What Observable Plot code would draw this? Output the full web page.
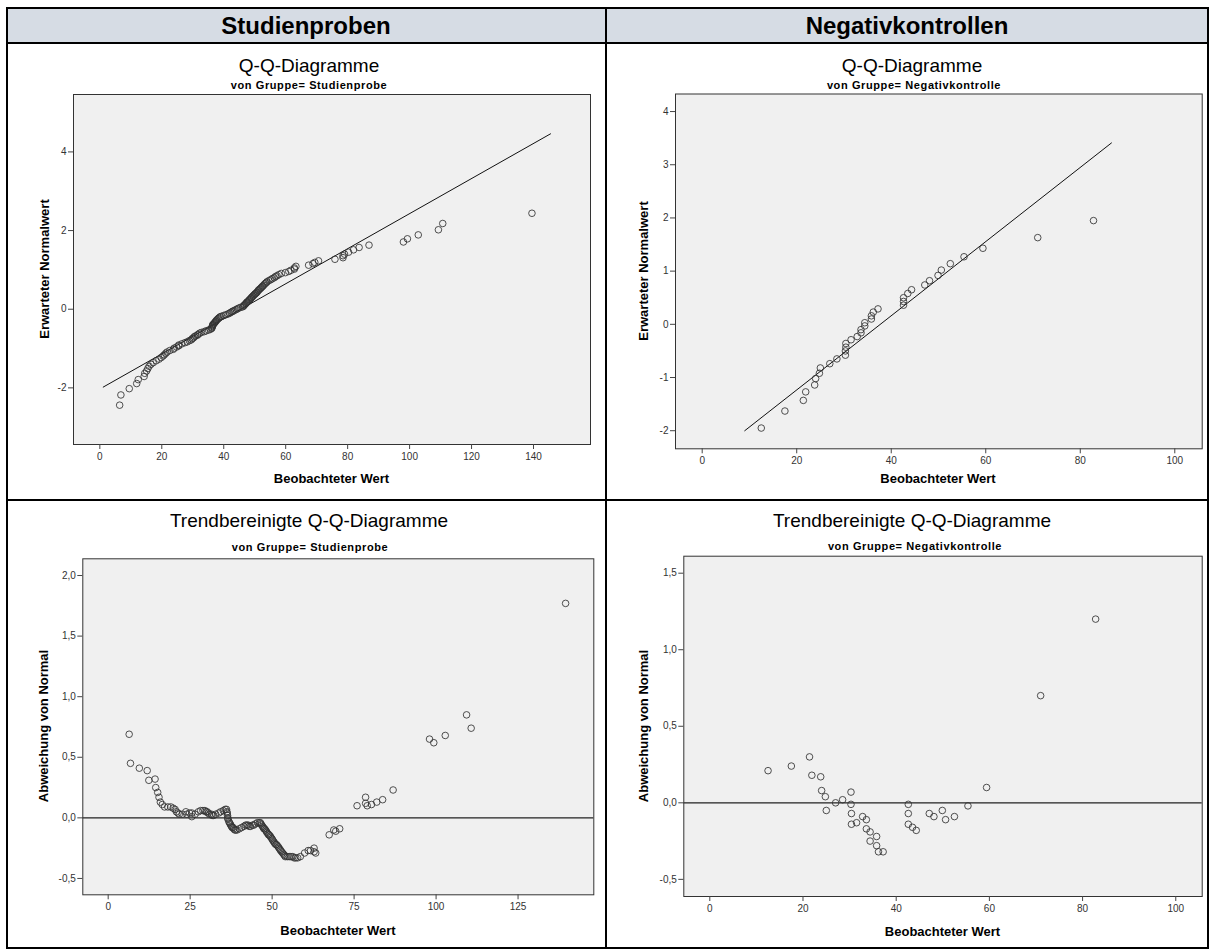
<!DOCTYPE html>
<html><head><meta charset="utf-8">
<script src="https://cdn.jsdelivr.net/npm/d3@7"></script>
<script src="https://cdn.jsdelivr.net/npm/@observablehq/plot@0.6"></script>
<style>
body{margin:0;background:#fff;font-family:"Liberation Sans",Arial,sans-serif;}
#root{position:relative;width:1212px;height:951px;overflow:hidden;background:#fff;}
.ln{position:absolute;background:#000;}
.t{position:absolute;white-space:nowrap;transform:translate(-50%,-50%);line-height:1;color:#000;}
.rot{transform:translate(-50%,-50%) rotate(-90deg);}
.hdr{font-size:24px;font-weight:bold;}
.ttl{font-size:19px;}
.sub{font-size:11px;font-weight:bold;letter-spacing:0.6px;}
.ax{font-size:13px;font-weight:bold;}
</style></head>
<body><div id="root"></div>
<script>
// ---------- data ----------
const groups = ["Studienproben", "Negativkontrollen"];
const subtitles = ["von Gruppe= Studienprobe", "von Gruppe= Negativkontrolle"];

// Studienprobe: observed value, expected normal value, deviation from normal
const studyObs = [6.4, 6.8, 9.5, 11.9, 12.4, 14.3, 14.5, 15.1, 15.5, 15.9, 16.5, 17.2, 18.2, 19.1, 19.8, 20.4, 20.8, 21.3, 21.7, 22.6, 23.7, 24.0, 24.8, 25.5, 25.5, 26.5, 27.5, 28.2, 28.9, 29.5, 29.8, 30.2, 30.5, 30.9, 31.5, 31.7, 32.2, 32.8, 33.7, 34.3, 35.1, 35.7, 36.1, 36.2, 36.3, 36.4, 36.5, 36.5, 36.8, 37.0, 37.2, 37.4, 37.6, 37.8, 38.1, 38.3, 38.6, 38.9, 39.3, 40.0, 40.7, 41.4, 41.9, 42.3, 42.7, 43.0, 43.4, 44.0, 44.4, 44.9, 45.5, 46.1, 46.4, 46.6, 46.8, 47.1, 47.3, 47.5, 47.7, 48.0, 48.2, 48.4, 48.7, 48.9, 49.1, 49.4, 49.6, 49.9, 50.1, 50.3, 50.6, 50.8, 51.1, 51.3, 51.6, 51.9, 52.1, 52.4, 52.6, 52.9, 53.2, 53.5, 53.8, 54.0, 54.6, 55.2, 55.7, 56.3, 56.7, 57.2, 57.8, 58.6, 59.9, 61.0, 61.7, 62.8, 62.8, 63.3, 67.4, 68.8, 69.4, 70.6, 75.9, 78.5, 78.5, 79.0, 80.3, 81.9, 83.7, 86.9, 98.0, 99.3, 102.8, 109.3, 110.7, 139.5];
const studyExp = [-2.44, -2.18, -2.02, -1.89, -1.79, -1.71, -1.63, -1.57, -1.51, -1.45, -1.40, -1.36, -1.31, -1.27, -1.23, -1.19, -1.16, -1.12, -1.09, -1.05, -1.02, -0.99, -0.96, -0.93, -0.91, -0.88, -0.85, -0.83, -0.80, -0.78, -0.75, -0.73, -0.70, -0.68, -0.66, -0.64, -0.61, -0.59, -0.57, -0.55, -0.53, -0.51, -0.49, -0.47, -0.44, -0.42, -0.40, -0.39, -0.37, -0.35, -0.33, -0.31, -0.29, -0.27, -0.25, -0.23, -0.21, -0.19, -0.18, -0.16, -0.14, -0.12, -0.10, -0.08, -0.06, -0.05, -0.03, -0.01, 0.01, 0.03, 0.05, 0.06, 0.08, 0.10, 0.12, 0.14, 0.16, 0.18, 0.19, 0.21, 0.23, 0.25, 0.27, 0.29, 0.31, 0.33, 0.35, 0.37, 0.39, 0.40, 0.42, 0.44, 0.47, 0.49, 0.51, 0.53, 0.55, 0.57, 0.59, 0.61, 0.64, 0.66, 0.68, 0.70, 0.73, 0.75, 0.78, 0.80, 0.83, 0.85, 0.88, 0.91, 0.93, 0.96, 0.99, 1.02, 1.05, 1.09, 1.12, 1.16, 1.19, 1.23, 1.27, 1.31, 1.36, 1.40, 1.45, 1.51, 1.57, 1.63, 1.71, 1.79, 1.89, 2.02, 2.18, 2.44];
const studyDev = [0.69, 0.45, 0.41, 0.39, 0.31, 0.32, 0.25, 0.21, 0.17, 0.13, 0.11, 0.09, 0.09, 0.09, 0.08, 0.07, 0.05, 0.04, 0.03, 0.03, 0.05, 0.03, 0.04, 0.04, 0.01, 0.03, 0.05, 0.06, 0.06, 0.06, 0.05, 0.05, 0.04, 0.03, 0.03, 0.02, 0.02, 0.03, 0.04, 0.05, 0.06, 0.07, 0.07, 0.05, 0.04, 0.02, 0.00, -0.01, -0.03, -0.04, -0.05, -0.06, -0.07, -0.08, -0.08, -0.09, -0.10, -0.10, -0.10, -0.09, -0.08, -0.07, -0.06, -0.06, -0.06, -0.07, -0.07, -0.06, -0.06, -0.05, -0.04, -0.04, -0.04, -0.05, -0.06, -0.07, -0.08, -0.09, -0.09, -0.10, -0.11, -0.12, -0.13, -0.14, -0.14, -0.15, -0.16, -0.17, -0.18, -0.19, -0.20, -0.21, -0.22, -0.22, -0.23, -0.24, -0.25, -0.26, -0.27, -0.28, -0.29, -0.30, -0.31, -0.32, -0.32, -0.32, -0.32, -0.32, -0.33, -0.33, -0.33, -0.32, -0.29, -0.27, -0.27, -0.25, -0.28, -0.29, -0.14, -0.10, -0.11, -0.09, 0.10, 0.17, 0.12, 0.10, 0.11, 0.13, 0.15, 0.23, 0.65, 0.62, 0.68, 0.85, 0.74, 1.77];

// Negativkontrolle
const ncObs = [12.5, 17.5, 21.4, 21.9, 23.8, 24.0, 24.8, 25.0, 27.0, 28.5, 30.3, 30.3, 30.4, 30.4, 31.5, 32.8, 33.6, 33.6, 34.4, 34.4, 35.8, 35.8, 36.2, 37.2, 42.6, 42.6, 42.6, 43.5, 44.3, 47.1, 48.1, 49.9, 50.6, 52.5, 55.4, 59.4, 71.0, 82.8];
const ncExp = [-1.95, -1.63, -1.43, -1.27, -1.14, -1.02, -0.92, -0.82, -0.74, -0.65, -0.58, -0.50, -0.43, -0.36, -0.29, -0.23, -0.16, -0.10, -0.03, 0.03, 0.10, 0.16, 0.23, 0.29, 0.36, 0.43, 0.50, 0.58, 0.65, 0.74, 0.82, 0.92, 1.02, 1.14, 1.27, 1.43, 1.63, 1.95];
const ncDev = [0.21, 0.24, 0.30, 0.18, 0.17, 0.08, 0.04, -0.05, 0.00, 0.02, 0.07, -0.01, -0.07, -0.14, -0.13, -0.09, -0.11, -0.17, -0.19, -0.25, -0.22, -0.28, -0.32, -0.32, -0.01, -0.07, -0.14, -0.16, -0.18, -0.07, -0.09, -0.05, -0.11, -0.09, -0.02, 0.10, 0.70, 1.20];

// reference lines of the Q-Q plots (end points)
const studyLineX = [1.1, 145.5], studyLineY = [-1.98, 4.46];
const ncLineX = [9.0, 86.6], ncLineY = [-2.0, 3.41];

// tick values
const studyQQxTicks = [0, 20, 40, 60, 80, 100, 120, 140];
const studyQQyTicks = [-2, 0, 2, 4];
const ncQQxTicks = [0, 20, 40, 60, 80, 100];
const ncQQyTicks = [-2, -1, 0, 1, 2, 3, 4];
const studyDTxTicks = [0, 25, 50, 75, 100, 125];
const studyDTyTicks = [-0.5, 0, 0.5, 1.0, 1.5, 2.0];
const ncDTxTicks = [0, 20, 40, 60, 80, 100];
const ncDTyTicks = [-0.5, 0, 0.5, 1.0, 1.5];

// ---------- layout ----------
const root = document.getElementById("root");
function line(x, y, w, h, color) {
  const d = document.createElement("div");
  d.className = "ln";
  Object.assign(d.style, {left: x + "px", top: y + "px", width: w + "px", height: h + "px"});
  if (color) d.style.background = color;
  root.appendChild(d);
}
function text(str, cls, cx, cy) {
  const d = document.createElement("div");
  d.className = "t " + cls;
  d.textContent = str;
  d.style.left = cx + "px";
  d.style.top = cy + "px";
  root.appendChild(d);
}
// header background
line(8, 9, 1199, 33, "#d6dce4");
// table borders
line(6, 7, 1203, 2);
line(6, 7, 2, 942);
line(1207, 7, 2, 942);
line(6, 947, 1203, 2);
line(6, 42, 1203, 2);
line(605, 7, 2, 942);
line(6, 499, 1203, 2);

text(groups[0], "hdr", 306, 26);
text(groups[1], "hdr", 907, 26);
text("Q-Q-Diagramme", "ttl", 309, 65);
text("Q-Q-Diagramme", "ttl", 912, 65);
text(subtitles[0], "sub", 309, 85);
text(subtitles[1], "sub", 914, 85);
text("Trendbereinigte Q-Q-Diagramme", "ttl", 309, 520);
text("Trendbereinigte Q-Q-Diagramme", "ttl", 912, 520);
text(subtitles[0], "sub", 310, 547);
text(subtitles[1], "sub", 915, 546);
text("Erwarteter Normalwert", "ax rot", 44, 269);
text("Erwarteter Normalwert", "ax rot", 643, 271);
text("Abweichung von Normal", "ax rot", 43, 726);
text("Abweichung von Normal", "ax rot", 643, 726);
text("Beobachteter Wert", "ax", 331.5, 478);
text("Beobachteter Wert", "ax", 938, 478);
text("Beobachteter Wert", "ax", 338, 930);
text("Beobachteter Wert", "ax", 942.5, 931);

const study = studyObs.map((x, i) => ({x, exp: studyExp[i], dev: studyDev[i]}));
const nc = ncObs.map((x, i) => ({x, exp: ncExp[i], dev: ncDev[i]}));

const fmtInt = d => String(d);
const fmtDec = d => d.toFixed(1).replace(".", ",");

function panel(o) {
  const refMark = o.line
    ? Plot.line(o.line[0].map((x, i) => [x, o.line[1][i]]), {stroke: "#111", strokeWidth: 1})
    : Plot.ruleY([0], {stroke: "#222", strokeWidth: 1.2});
  const svg = Plot.plot({
    width: o.W, height: o.H,
    marginLeft: o.fL - o.L, marginTop: o.fT - o.T,
    marginRight: o.L + o.W - o.fR, marginBottom: o.T + o.H - o.fB,
    x: {domain: o.xDomain},
    y: {domain: o.yDomain},
    style: {background: "transparent", fontFamily: '"Liberation Sans", Arial, sans-serif', fontSize: "10px", color: "#333", overflow: "visible"},
    marks: [
      Plot.frame({fill: "#f0f0f0", stroke: null}),
      refMark,
      Plot.dot(o.data, {x: "x", y: o.yKey, r: 3.3, stroke: "#333", strokeOpacity: 0.85, strokeWidth: 1, fill: "none"}),
      Plot.frame({stroke: "#333", strokeWidth: 1}),
      Plot.axisX({ticks: o.xTicks, tickSize: 5, tickPadding: 3, tickFormat: fmtInt, label: null, stroke: "#444"}),
      Plot.axisY({ticks: o.yTicks, tickSize: 5, tickPadding: 2, tickFormat: o.yFmt, label: null, stroke: "#444"})
    ]
  });
  svg.style.position = "absolute";
  svg.style.left = o.L + "px";
  svg.style.top = o.T + "px";
  root.appendChild(svg);
}

panel({data: study, yKey: "exp", line: [studyLineX, studyLineY],
  xDomain: [-8.5, 158.4], yDomain: [-3.44, 5.46], xTicks: studyQQxTicks, yTicks: studyQQyTicks, yFmt: fmtInt,
  L: 20, T: 84, W: 580, H: 390, fL: 73, fT: 94, fR: 590, fB: 444});
panel({data: nc, yKey: "exp", line: [ncLineX, ncLineY],
  xDomain: [-5.65, 105.8], yDomain: [-2.34, 4.33], xTicks: ncQQxTicks, yTicks: ncQQyTicks, yFmt: fmtInt,
  L: 620, T: 84, W: 585, H: 390, fL: 675, fT: 93.5, fR: 1201.7, fB: 448.3});
panel({data: study, yKey: "dev", line: null,
  xDomain: [-7.74, 148.1], yDomain: [-0.635, 2.138], xTicks: studyDTxTicks, yTicks: studyDTyTicks, yFmt: fmtDec,
  L: 20, T: 545, W: 580, H: 375, fL: 82.3, fT: 558.3, fR: 593.3, fB: 894.3});
panel({data: nc, yKey: "dev", line: null,
  xDomain: [-5.58, 105.67], yDomain: [-0.612, 1.611], xTicks: ncDTxTicks, yTicks: ncDTyTicks, yFmt: fmtDec,
  L: 620, T: 545, W: 585, H: 375, fL: 683.3, fT: 555.7, fR: 1201.7, fB: 896});
</script>
</body></html>
